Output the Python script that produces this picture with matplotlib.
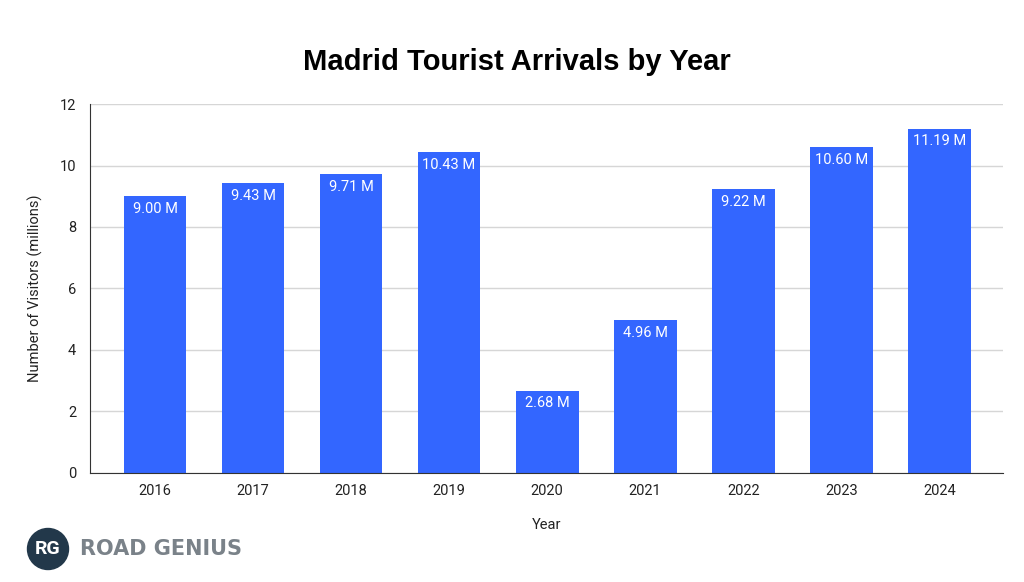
import matplotlib

matplotlib.use("Agg")
import matplotlib.pyplot as plt
from matplotlib.patches import Circle

years = ["2016", "2017", "2018", "2019", "2020", "2021", "2022", "2023", "2024"]
visitors = [9.00, 9.43, 9.71, 10.43, 2.68, 4.96, 9.22, 10.60, 11.19]
y_ticks = [0, 2, 4, 6, 8, 10, 12]

BAR_COLOR = "#3366FF"
TEXT = "#222222"

plt.rcParams["font.family"] = ["Roboto", "DejaVu Sans"]

fig = plt.figure(figsize=(10.24, 5.82), dpi=100)
ax = fig.add_axes([0.0879, 0.1873, 0.8916, 0.634])

x = list(range(len(years)))
bars = ax.bar(x, visitors, width=0.64, color=BAR_COLOR, zorder=3)
for rect, val in zip(bars, visitors):
    ax.annotate(f"{val:.2f} M", (rect.get_x() + rect.get_width() / 2, val),
                xytext=(0, -4), textcoords="offset points",
                ha="center", va="top", color="white", fontsize=10.5, zorder=4)

ax.set_xlim(-0.663, 8.65)
ax.set_ylim(0, 12)
ax.set_xticks(x)
ax.set_xticklabels(years)
ax.set_yticks(y_ticks)
ax.tick_params(axis="both", length=0, labelsize=10.5, colors=TEXT)
ax.tick_params(axis="x", pad=8)
ax.tick_params(axis="y", pad=10)
ax.grid(True, axis="y", color="#d6d6d6", linewidth=1, zorder=0)
for side in ("top", "right"):
    ax.spines[side].set_visible(False)
for side in ("left", "bottom"):
    ax.spines[side].set_color("#333333")
    ax.spines[side].set_zorder(5)

ax.set_xlabel("Year", fontsize=10.5, color=TEXT, labelpad=14)
ax.set_ylabel("Number of Visitors (millions)", fontsize=10.5, color=TEXT, labelpad=12)

fig.text(517 / 1024, 0.893, "Madrid Tourist Arrivals by Year", ha="center", va="center",
         fontsize=21, fontweight="bold", family=["Liberation Sans", "DejaVu Sans"],
         color="black")

# logo
logo_y = (582 - 549) / 100
circ = Circle((0.48, logo_y), 0.205, transform=fig.dpi_scale_trans,
              facecolor="#22384a", edgecolor="#22384a", zorder=10)
fig.patches.append(circ)
fig.text(48 / 1024, logo_y / 5.82, "RG", ha="center", va="center", color="white",
         fontsize=14, fontweight="bold", zorder=11)
fig.text(80 / 1024, logo_y / 5.82, "ROAD GENIUS", ha="left", va="center", color="#7a8289",
         fontsize=15, fontweight="bold", family=["DejaVu Sans"], zorder=11)

fig.savefig("out.png", dpi=100)
